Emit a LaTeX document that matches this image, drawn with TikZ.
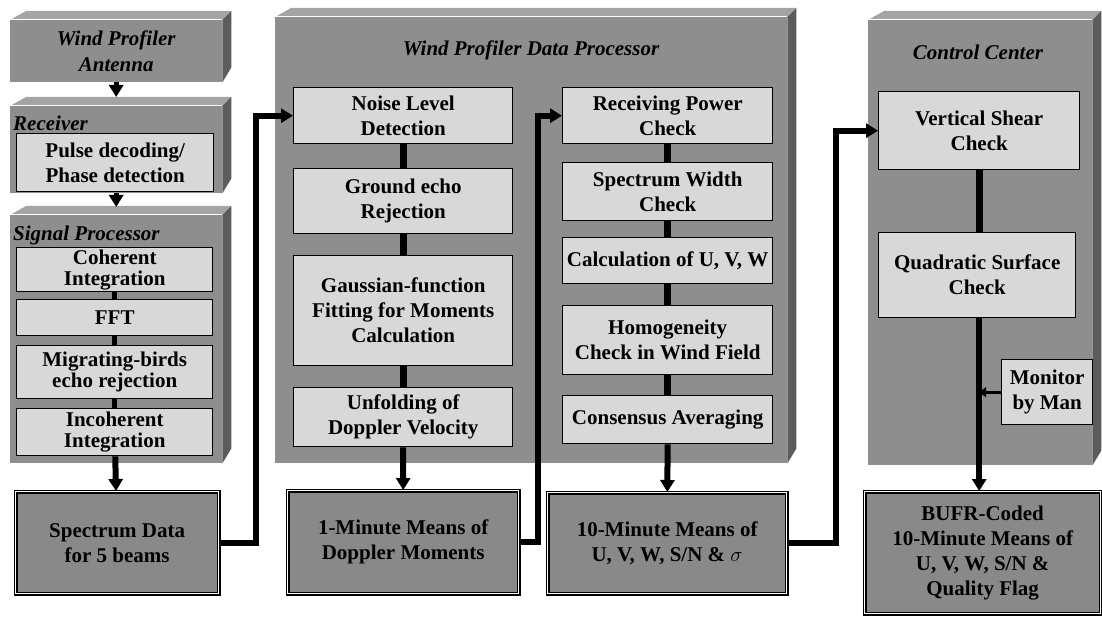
\documentclass[tikz,border=0pt]{standalone}
\usepackage{fontspec}
\setmainfont{Liberation Serif}
\usetikzlibrary{arrows.meta,calc}
\definecolor{slabfront}{HTML}{8E8E8E}
\definecolor{slabtop}{HTML}{A4A4A4}
\definecolor{slabside}{HTML}{5C5C5C}
\definecolor{stepfill}{HTML}{D8D8D8}
\definecolor{outfill}{HTML}{898989}
\tikzset{
  slabblock/.style={
    rectangle, fill=slabfront, inner sep=0pt, anchor=north west,
    font=\fontsize{21}{26}\selectfont\bfseries\itshape, align=center
  },
  stepblock/.style={
    rectangle, draw=black, fill=stepfill, line width=1.4pt, anchor=north west,
    inner sep=1pt, align=center, font=\fontsize{21}{25}\selectfont\bfseries
  },
  outblock/.style={
    rectangle, draw=black, line width=1.3pt, double=white, double distance=1.6pt,
    fill=outfill, anchor=north west, align=center,
    font=\fontsize{21}{25}\selectfont\bfseries
  },
  titlenode/.style={
    font=\fontsize{21}{25}\selectfont\bfseries\itshape, inner sep=0pt
  },
  flowarrow/.style={
    -{Triangle[length=12pt,width=14pt]}, line width=#1, color=black
  },
  flowarrow/.default=6pt,
  linkline/.style={line width=#1, color=black},
  linkline/.default=7pt,
  smallarrow/.style={-{Triangle[length=7pt,width=10pt]}, line width=3pt, color=black},
}
% top and side faces of a slab
\newcommand{\slabfaces}[1]{%
  \fill[slabtop] (#1.north west) -- ++(16,-9) -- ($(#1.north east)+(9,-9)$)
    -- (#1.north east) -- cycle;
  \fill[slabside] (#1.north east) -- ++(9,-9) -- ($(#1.south east)+(9,-15)$)
    -- (#1.south east) -- cycle;
  \draw[white, line width=1pt] (#1.north west) -- (#1.north east);
}

\begin{document}
\begin{tikzpicture}[x=1pt, y=-1pt]
  \useasboundingbox (0,0) rectangle (1102,617);

  % Slabs
  \node[slabblock, minimum width=212pt, minimum height=62pt] (antenna) at (10,20) {Wind Profiler\\Antenna};
  \node[slabblock, minimum width=212pt, minimum height=87pt] (recv) at (10,106) {};
  \node[slabblock, minimum width=212pt, minimum height=248pt] (sigproc) at (10,215) {};
  \node[slabblock, minimum width=512pt, minimum height=446pt] (dataproc) at (275,17) {};
  \node[slabblock, minimum width=224pt, minimum height=445pt] (ctrl) at (868,20) {};
  \foreach \s in {antenna,recv,sigproc,dataproc,ctrl} {\slabfaces{\s}}

  % Slab titles
  \node[titlenode, anchor=west] (recvT) at (13,123) {Receiver};
  \node[titlenode, anchor=west] (sigT) at (13,235) {Signal Processor};
  \node[titlenode] (dataT) at (531,50) {Wind Profiler Data Processor};
  \node[titlenode] (ctrlT) at (978,52) {Control Center};

  % Receiver and signal processor
  \node[stepblock, minimum width=197pt, minimum height=58pt] (pulse) at (16,133) {Pulse decoding/\\Phase detection};
  \foreach \name/\y/\h/\txt in {coh/247/44/Coherent\\Integration, fft/299/36/FFT,
      birds/345/53/Migrating-birds\\echo rejection, incoh/408/47/Incoherent\\Integration} {
    \node[stepblock, minimum width=196pt, minimum height=\h pt,
      font=\fontsize{21}{21}\selectfont\bfseries] (\name) at (16,\y) {\txt};
  }
  \foreach \a/\b in {coh/fft, fft/birds, birds/incoh}
    \draw[linkline=5pt] (\a) -- (\b);

  % Data processor, first column
  \foreach \name/\y/\h/\txt in {noise/87/56/Noise Level\\Detection, ground/168/65/Ground echo\\Rejection,
      gauss/255/110/Gaussian-function\\Fitting for Moments\\Calculation,
      unfold/387/59/Unfolding of\\Doppler Velocity} {
    \node[stepblock, minimum width=219pt, minimum height=\h pt] (\name) at (293,\y) {\txt};
  }
  \foreach \a/\b in {noise/ground, ground/gauss, gauss/unfold}
    \draw[linkline] (\a) -- (\b);

  % Data processor, second column
  \node[stepblock, minimum width=210pt, minimum height=56pt] (rpower) at (562,87) {Receiving Power\\Check};
  \node[stepblock, minimum width=210pt, minimum height=58pt] (swidth) at (562,162) {Spectrum Width\\Check};
  \node[stepblock, minimum width=210pt, minimum height=46pt] (calc) at (562,237) {Calculation of U, V, W};
  \node[stepblock, minimum width=210pt, minimum height=69pt] (homog) at (562,305) {Homogeneity\\Check in Wind Field};
  \node[stepblock, minimum width=210pt, minimum height=48pt] (consens) at (562,395) {Consensus Averaging};
  \foreach \a/\b in {rpower/swidth, swidth/calc, calc/homog, homog/consens}
    \draw[linkline] (\a) -- (\b);

  % Control center
  \node[stepblock, minimum width=201pt, minimum height=78pt] (vshear) at (878,91) {Vertical Shear\\Check};
  \node[stepblock, minimum width=197pt, minimum height=85pt] (quad) at (878,232) {Quadratic Surface\\Check};
  \node[stepblock, minimum width=91pt, minimum height=65pt] (monitor) at (1001,359) {Monitor\\by Man};

  % Output data
  \node[outblock, minimum width=203pt, minimum height=102pt] (spec) at (15,491) {Spectrum Data\\for 5 beams};
  \node[outblock, minimum width=231pt, minimum height=103pt] (onemin) at (287,490) {1-Minute Means of\\Doppler Moments};
  \node[outblock, minimum width=239pt, minimum height=101pt] (tenmin) at (547,492) {10-Minute Means of\\U, V, W, S/N \& $\sigma$};
  \node[outblock, minimum width=236pt, minimum height=122pt] (bufr) at (864,491) {BUFR-Coded\\10-Minute Means of\\U, V, W, S/N \&\\Quality Flag};

  % Arrows
  \draw[flowarrow=5pt, shorten >=9pt] (antenna) -- (recv);
  \draw[flowarrow=5pt, shorten >=8pt] (recv) -- (sigproc);
  \draw[flowarrow] (incoh) -- (spec);
  \draw[flowarrow] (unfold) -- (onemin);
  \draw[flowarrow] (consens) -- (tenmin);
  \draw[flowarrow] (spec.east) -- ++(37,0) |- (noise.west);
  \draw[flowarrow] (onemin.east) -- ++(19,0) |- (rpower.west);
  \draw[flowarrow] (tenmin.east) -- ++(49,0) |- (vshear.west);
  \draw[linkline] (vshear.south) -- (vshear.south |- quad.north);
  \draw[flowarrow] (vshear.south |- quad.south) -- (vshear.south |- bufr.north);
  \draw[smallarrow] (monitor.west) -- (monitor.west -| vshear.south);
\end{tikzpicture}
\end{document}
